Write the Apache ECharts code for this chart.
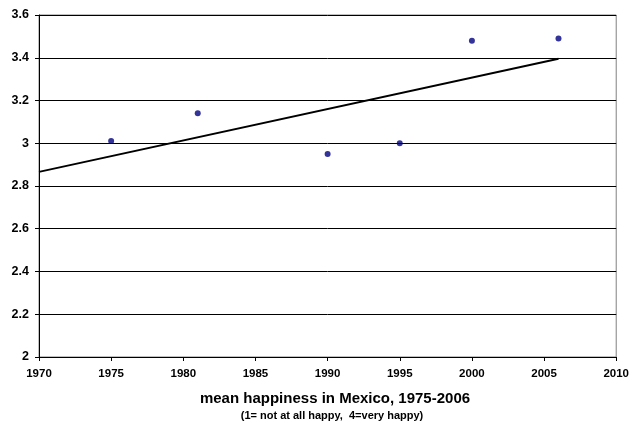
<!DOCTYPE html>
<html><head><meta charset="utf-8">
<script src="https://cdn.jsdelivr.net/npm/echarts@6/dist/echarts.min.js"></script>
<style>html,body{margin:0;padding:0;background:#fff}#c{width:632px;height:423px}</style>
</head><body><div id="c"></div>
<script>
const years = [1975, 1981, 1990, 1995, 2000, 2006];
const happiness = [3.01, 3.14, 2.95, 3.00, 3.48, 3.49];
const trendYears = [1970, 2006];
const trendValues = [2.866, 3.395];
const title = 'mean happiness in Mexico, 1975-2006';
const subtitle = '(1= not at all happy,  4=very happy)';

const font = '"Liberation Sans", Arial, sans-serif';
const chart = echarts.init(document.getElementById('c'), null, {renderer: 'canvas'});
chart.setOption({
  animation: false,
  backgroundColor: '#fff',
  title: [
    {text: title, left: 330, top: 386, textAlign: 'center',
     textStyle: {fontFamily: font, fontWeight: 'bold', fontSize: 15, color: '#000'}},
    {text: subtitle, left: 327, top: 405, textAlign: 'center',
     textStyle: {fontFamily: font, fontWeight: 'bold', fontSize: 11, color: '#000'}}
  ],
  grid: {left: 39, top: 15, width: 580, height: 342, show: true, borderColor: '#808080', borderWidth: 1, containLabel: false},
  xAxis: {
    type: 'value', min: 1970, max: 2010, interval: 5,
    axisLine: {show: true, onZero: false, lineStyle: {color: '#000', width: 1}},
    axisTick: {show: true, inside: false, length: 4, lineStyle: {color: '#000'}},
    axisLabel: {fontFamily: font, fontWeight: 'bold', fontSize: 11.5, color: '#000', margin: 11,
      formatter: v => String(v)},
    splitLine: {show: false}
  },
  yAxis: {
    type: 'value', min: 2, max: 3.6, interval: 0.2,
    axisLine: {show: true, onZero: false, lineStyle: {color: '#000', width: 1}},
    axisTick: {show: true, inside: false, length: 4, lineStyle: {color: '#000'}},
    axisLabel: {fontFamily: font, fontWeight: 'bold', fontSize: 12.5, color: '#000', margin: 10,
      formatter: v => String(Math.round(v * 10) / 10)},
    splitLine: {show: true, lineStyle: {color: '#000', width: 1}}
  },
  series: [
    {type: 'line', data: trendYears.map((x, i) => [x, trendValues[i]]),
     showSymbol: false, symbol: 'none', lineStyle: {color: '#000', width: 2}, z: 2},
    {type: 'scatter', data: years.map((x, i) => [x, happiness[i]]),
     symbol: 'circle', symbolSize: 6, itemStyle: {color: '#000080'}, z: 3}
  ]
});
</script></body></html>
